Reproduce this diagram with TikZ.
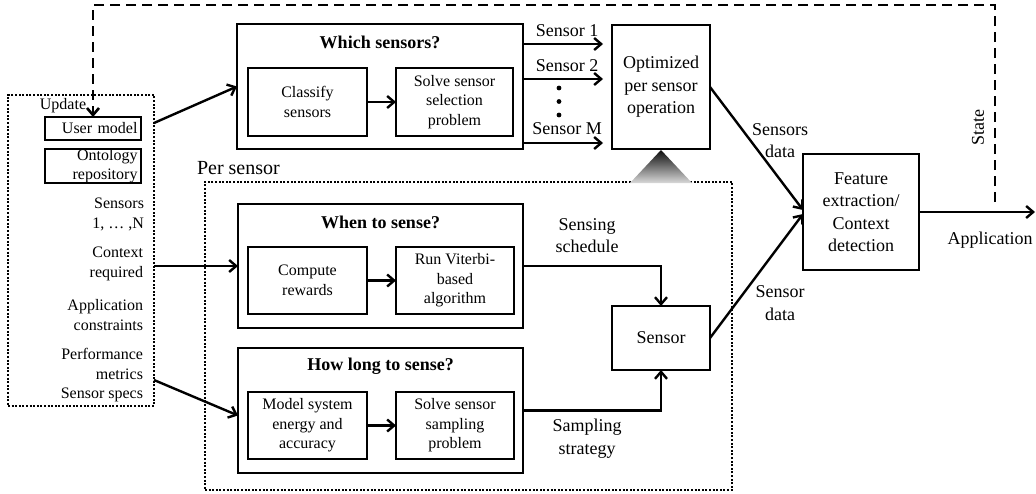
\documentclass[tikz,border=0pt]{standalone}
\usepackage{fontspec}
\setmainfont{Liberation Serif}
\usetikzlibrary{arrows.meta,calc}
\begin{document}
\begin{tikzpicture}[x=1pt,y=-1pt,
  every node/.style={inner sep=0pt,outer sep=0pt},
  bigbox/.style={draw,line width=2.8pt},
  smallbox/.style={draw,line width=1.3pt,align=center,font=\fontsize{16}{19.5}\selectfont},
  midbox/.style={draw,line width=2.6pt,align=center,font=\fontsize{18}{22.5}\selectfont},
  ttl/.style={font=\fontsize{18}{22}\selectfont\bfseries},
  lbl/.style={align=center,font=\fontsize{18}{22.5}\selectfont},
  lft/.style={align=right,anchor=east,font=\fontsize{16}{20}\selectfont},
  dotbox/.style={draw,line width=2pt,dash pattern=on 2pt off 1.6pt},
  arr/.style={line width=2.4pt,-{Straight Barb[length=7pt,width=12pt]}},
  dsh/.style={line width=2.6pt,dash pattern=on 10pt off 6pt,-{Straight Barb[length=7pt,width=12pt]}}
]
\useasboundingbox (0,0) rectangle (1036,493);

% left input panel
\node[dotbox,minimum width=146pt,minimum height=311pt] (leftbox) at (81,250.5) {};
\node[draw,line width=1.3pt,minimum width=96pt,minimum height=23pt,text width=89pt,align=right,inner xsep=3.5pt,font=\fontsize{16}{19.5}\selectfont] (usermodel) at (93,128.5) {User model};
\node[draw,line width=1.3pt,minimum width=96pt,minimum height=34pt,text width=89pt,align=right,inner xsep=3.5pt,font=\fontsize{16}{18.5}\selectfont] (ontology) at (93,166) {Ontology\\repository};
\node[font=\fontsize{16}{19.5}\selectfont] (update) at (63,106) {Update};
\node[lft] (sensorsN) at (144,214.5) {Sensors\\1, … ,N};
\node[lft] (context) at (143,263.5) {Context\\required};
\node[lft] (appcons) at (143,315) {Application\\constraints};
\node[lft] (perf) at (143,363.5) {Performance\\metrics};
\node[lft] (specs) at (143,395) {Sensor specs};

% which sensors
\node[bigbox,minimum width=286pt,minimum height=125pt] (which) at (380,86.5) {};
\node[ttl] (whichttl) at (380,42) {Which sensors?};
\node[smallbox,minimum width=119pt,minimum height=68pt] (classify) at (307.5,102) {Classify\\sensors};
\node[smallbox,minimum width=117pt,minimum height=68pt] (solvesel) at (454.5,102) {Solve sensor\\selection\\problem};

% optimized
\node[midbox,minimum width=98pt,minimum height=124pt] (optimized) at (661,87) {Optimized\\per sensor\\operation};

% per sensor
\node[font=\fontsize{20}{24}\selectfont,anchor=west] (persensorlbl) at (197,168) {Per sensor};
\node[dotbox,minimum width=527pt,minimum height=308pt] (persensor) at (468.5,336) {};
\shade[top color=black!95,bottom color=black!15] (661,150) -- (630,183) -- (692,183) -- cycle;

% when to sense
\node[bigbox,minimum width=285pt,minimum height=124pt] (when) at (380.5,266) {};
\node[ttl] (whenttl) at (380.5,222) {When to sense?};
\node[smallbox,minimum width=119pt,minimum height=67pt] (compute) at (307.5,280.5) {Compute\\rewards};
\node[smallbox,minimum width=118pt,minimum height=67pt] (viterbi) at (455,280.5) {Run Viterbi-\\based\\algorithm};

% how long to sense
\node[bigbox,minimum width=285pt,minimum height=125pt] (howlong) at (380.5,410.5) {};
\node[ttl] (howttl) at (380.5,366) {How long to sense?};
\node[smallbox,minimum width=119pt,minimum height=67pt] (model) at (307.5,425.5) {Model system\\energy and\\accuracy};
\node[smallbox,minimum width=118pt,minimum height=67pt] (solvesamp) at (455,425.5) {Solve sensor\\sampling\\problem};

% sensor and feature
\node[midbox,minimum width=98pt,minimum height=64pt] (sensor) at (661,338) {Sensor};
\node[midbox,minimum width=116pt,minimum height=116pt] (feature) at (861,212) {Feature\\extraction/\\Context\\detection};

% labels
\node[lbl] (ls1) at (567,31) {Sensor 1};
\node[lbl] (ls2) at (567,66) {Sensor 2};
\node[lbl] (lsm) at (567,129) {Sensor M};
\fill (559,88) circle (2.4pt) (559,101.5) circle (2.4pt) (559,115) circle (2.4pt);
\node[lbl] (lsdata) at (780,140.5) {Sensors\\data};
\node[lbl] (lsched) at (587,235.5) {Sensing\\schedule};
\node[lbl] (lsamp) at (587,438.5) {Sampling\\strategy};
\node[lbl] (lsensdata) at (780,303) {Sensor\\data};
\node[lbl] (lapp) at (990,240) {Application};
\node[lbl,rotate=90] (lstate) at (978,128) {State};

% coordinates
\coordinate (s1) at (603,44);
\coordinate (s2) at (603,79);
\coordinate (sm) at (603,143);
\coordinate (lb1) at (154,123);
\coordinate (lb3) at (154,380);
\coordinate (append) at (1035,212);
\coordinate (statebot) at (995,202);

% connectors
\draw[arr] (lb1) -- (which.west);
\draw[arr] (leftbox.east |- when.west) -- (when.west);
\draw[arr] (lb3) -- ([yshift=-5pt]howlong.west);
\draw[arr] (classify) -- (solvesel);
\draw[arr] (compute) -- (viterbi);
\draw[arr] (model) -- (solvesamp);
\draw[arr] (which.east |- s1) -- (s1);
\draw[arr] (which.east |- s2) -- (s2);
\draw[arr] (which.east |- sm) -- (sm);
\draw[arr] (optimized.east) -- ([yshift=2pt]feature.west);
\draw[arr] (sensor.east) -- ([yshift=-2pt]feature.west);
\draw[arr] (when.east) -| (sensor.north);
\draw[arr] (howlong.east) -| (sensor.south);
\draw[arr] (feature.east) -- (append);
\draw[dsh] (statebot) -- ++(0,-197) -| (usermodel.north);
\end{tikzpicture}
\end{document}
